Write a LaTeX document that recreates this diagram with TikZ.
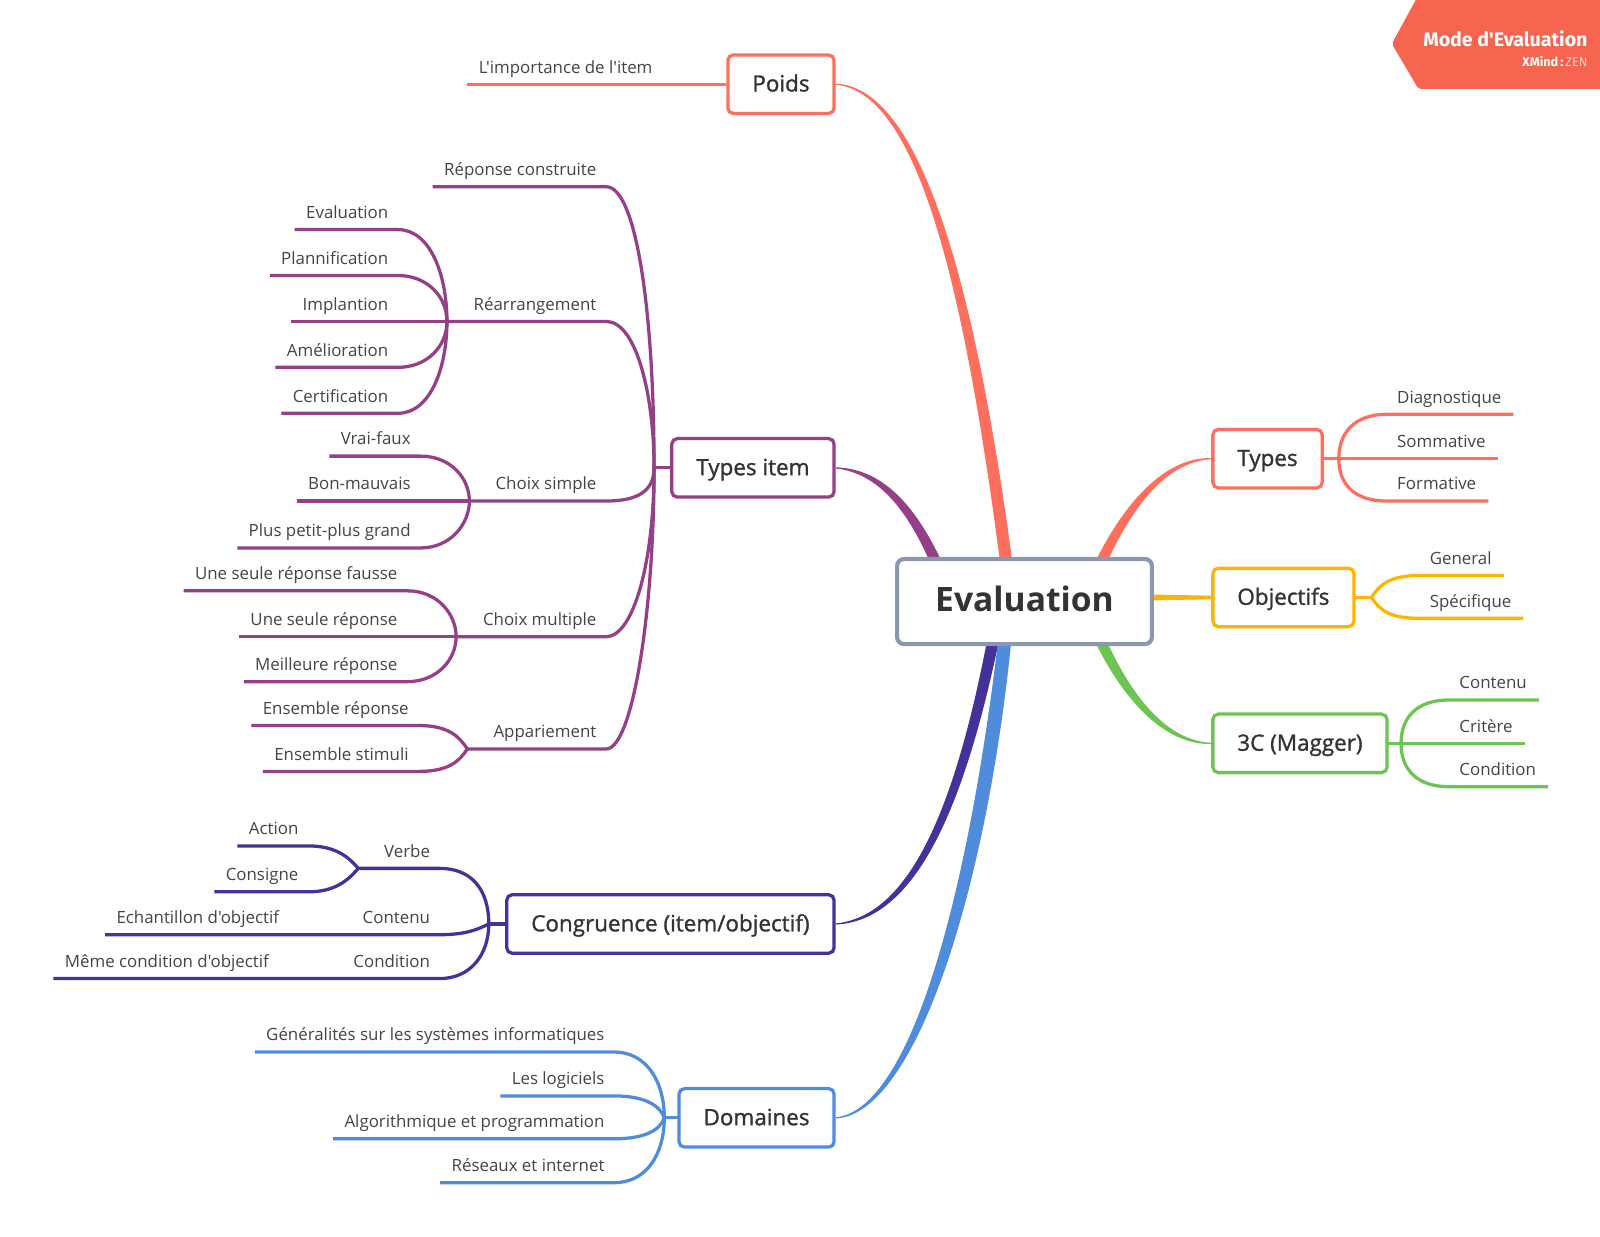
\documentclass[tikz,border=0pt]{standalone}
\usepackage{fontspec}
\usepackage{xcolor}
\setmainfont{Open Sans}
\newfontfamily\leaffont{Open Sans}
\newfontfamily\topicfont[FakeBold=1.2]{Open Sans}
\newfontfamily\flagfont{Fira Sans}
\usetikzlibrary{arrows.meta, positioning, calc, backgrounds}
\definecolor{maingrey}{RGB}{138, 151, 173}
\definecolor{textdark}{RGB}{51, 51, 51}
\definecolor{leaftext}{RGB}{68, 68, 68}
\definecolor{coral}{RGB}{255, 111, 94}
\definecolor{amber}{RGB}{255, 180, 0}
\definecolor{leafgreen}{RGB}{108, 197, 82}
\definecolor{plum}{RGB}{149, 63, 135}
\definecolor{indigo}{RGB}{68, 50, 152}
\definecolor{skyblue}{RGB}{80, 140, 220}
\definecolor{flagred}{RGB}{247, 101, 80}

\begin{document}
\begin{tikzpicture}[
  x=0.75pt, y=-0.75pt,
  central/.style={rectangle, rounded corners=5pt, draw=maingrey, fill=white,
                  line width=3pt, inner xsep=28pt, inner ysep=0pt, minimum height=62.5pt,
                  text height=20pt, text depth=5.1pt,
                  text=textdark, font=\fontsize{24.7}{30}\selectfont\bfseries},
  topic/.style={rectangle, rounded corners=4pt, draw=#1, fill=white,
                line width=2.4pt, inner xsep=18pt, inner ysep=0pt, minimum height=43pt,
                text height=13.6pt, text depth=2.8pt,
                text=textdark, font=\topicfont\fontsize{16.5}{20}\selectfont},
  leafleft/.style={anchor=south east, inner xsep=7pt, inner ysep=8pt,
                   text depth=0pt, text=leaftext,
                   font=\leaffont\fontsize{12.4}{15}\selectfont},
  leafright/.style={leafleft, anchor=south west, inner xsep=7.5pt},
  branch/.style={draw=#1, line width=2.4pt, shorten <=-1.2pt},
  taper/.style={fill=#1, draw=#1, line width=0.8pt}
]
  \useasboundingbox (0,0) rectangle (1568,1212);

  % -- Central topic and main topics -----------------------------------------
  \node[central] (main) at (1004,589.5) {Evaluation};

  \node[topic=coral,     anchor=east] (poids)  at (819,82.5)  {Poids};
  \node[topic=plum,      anchor=east] (item)   at (819,458.5) {Types item};
  \node[topic=indigo,    anchor=east] (congr)  at (819,905.5) {Congruence (item/objectif)};
  \node[topic=skyblue,   anchor=east] (domain) at (819,1095.5){Domaines};
  \node[topic=coral,     anchor=west] (types)  at (1187,449.5){Types};
  \node[topic=amber,     anchor=west] (goals)  at (1187,585.5){Objectifs};
  \node[topic=leafgreen, anchor=west] (magger) at (1187,728.5){3C (Magger)};

  % -- Tapered connectors, hidden behind the central topic --------------------
  \coordinate (poidsl) at (985.5,589); \coordinate (poidsr) at (996.5,589);
  \coordinate (iteml)  at (920,570);   \coordinate (itemr)  at (931,570);
  \coordinate (typesl) at (1065,570);  \coordinate (typesr) at (1076,570);
  \coordinate (goalsl) at (1120,583);  \coordinate (goalsr) at (1120,588);
  \coordinate (maggl)  at (1065,610);  \coordinate (maggr)  at (1076,610);
  \coordinate (congl)  at (973,600);   \coordinate (congr2) at (984,600);
  \coordinate (doml)   at (983,590);   \coordinate (domr)   at (994,590);
  \begin{scope}[on background layer]
    \fill[taper=coral] (poids.east) .. controls (904,90) and (949.5,300) .. (poidsl)
      -- (poidsr) .. controls (960.5,300) and (906,86) .. (poids.east);
    \fill[taper=plum] (item.east) .. controls (868,464) and (897,512) .. (iteml)
      -- (itemr) .. controls (905,508) and (872,460) .. (item.east);
    \fill[taper=coral] (types.west) .. controls (1140,448) and (1096,498) .. (typesl)
      -- (typesr) .. controls (1104,502) and (1140,452) .. (types.west);
    \fill[taper=amber] ($(goals.west)+(0,-1.2)$) -- (goalsl) -- (goalsr) -- ($(goals.west)+(0,1.2)$) -- cycle;
    \fill[taper=leafgreen] (magger.west) .. controls (1140,730) and (1096,682) .. (maggl)
      -- (maggr) .. controls (1104,678) and (1140,726) .. (magger.west);
    \fill[taper=indigo] (congr.east) .. controls (896,898) and (941,780) .. (congl)
      -- (congr2) .. controls (949,782) and (900,902) .. (congr.east);
    \fill[taper=skyblue] (domain.east) .. controls (896,1088) and (954,860) .. (doml)
      -- (domr) .. controls (972,860) and (898,1092) .. (domain.east);
  \end{scope}

  % -- Poids -------------------------------------------------------------------
  \node[leafleft] (weight) at (649,82.5) {L'importance de l'item};
  \draw[branch=coral] (weight.south west) -- (poids.west);

  % -- Types item ---------------------------------------------------------------
  \coordinate (itemj) at (641,458.5);
  \coordinate (rearj) at (438,315);
  \coordinate (simpj) at (460,491);
  \coordinate (multj) at (447,624);
  \coordinate (pairj) at (458,734);
  \draw[branch=plum] (item.west) -- (itemj);

  \node[leafleft] (built) at (594,183) {Réponse construite};
  \node[leafleft] (rear)  at (594,315) {Réarrangement};
  \node[leafleft] (simp)  at (594,491) {Choix simple};
  \node[leafleft] (mult)  at (594,624) {Choix multiple};
  \node[leafleft] (pair)  at (594,734) {Appariement};

  \draw[branch=plum] (built.south west) -- (built.south east)
    .. controls +(30,0) and +(0,-150) .. (itemj);
  \draw[branch=plum] (rearj) -- (rear.south east)
    .. controls +(30,0) and +(0,-70) .. (itemj);
  \draw[branch=plum] (simpj) -- (simp.south east)
    .. controls +(32,0) and +(0,22) .. (itemj);
  \draw[branch=plum] (multj) -- (mult.south east)
    .. controls +(26,0) and +(0,95) .. (itemj);
  \draw[branch=plum] (pairj) -- (pair.south east)
    .. controls +(26,0) and +(0,140) .. (itemj);

  \node[leafleft] (rear1) at (390,225) {Evaluation};
  \node[leafleft] (rear2) at (390,270) {Plannification};
  \node[leafleft] (rear3) at (390,315) {Implantion};
  \node[leafleft] (rear4) at (390,360) {Amélioration};
  \node[leafleft] (rear5) at (390,405) {Certification};
  \draw[branch=plum] (rear1.south west) -- (rear1.south east)
    .. controls +(32,0) and +(0,-45) .. (rearj);
  \draw[branch=plum] (rear2.south west) -- (rear2.south east)
    .. controls +(28,0) and +(0,-25) .. (rearj);
  \draw[branch=plum] (rear3.south west) -- (rear3.south east) -- (rearj);
  \draw[branch=plum] (rear4.south west) -- (rear4.south east)
    .. controls +(28,0) and +(0,25) .. (rearj);
  \draw[branch=plum] (rear5.south west) -- (rear5.south east)
    .. controls +(32,0) and +(0,45) .. (rearj);

  \node[leafleft] (simp1) at (412,447) {Vrai-faux};
  \node[leafleft] (simp2) at (412,491) {Bon-mauvais};
  \node[leafleft] (simp3) at (412,537) {Plus petit-plus grand};
  \draw[branch=plum] (simp1.south west) -- (simp1.south east)
    .. controls +(30,0) and +(0,-22) .. (simpj);
  \draw[branch=plum] (simp2.south west) -- (simp2.south east) -- (simpj);
  \draw[branch=plum] (simp3.south west) -- (simp3.south east)
    .. controls +(30,0) and +(0,22) .. (simpj);

  \node[leafleft] (mult1) at (399,579) {Une seule réponse fausse};
  \node[leafleft] (mult2) at (399,624) {Une seule réponse};
  \node[leafleft] (mult3) at (399,668) {Meilleure réponse};
  \draw[branch=plum] (mult1.south west) -- (mult1.south east)
    .. controls +(30,0) and +(0,-22) .. (multj);
  \draw[branch=plum] (mult2.south west) -- (mult2.south east) -- (multj);
  \draw[branch=plum] (mult3.south west) -- (mult3.south east)
    .. controls +(30,0) and +(0,22) .. (multj);

  \node[leafleft] (pair1) at (410,711) {Ensemble réponse};
  \node[leafleft] (pair2) at (410,756) {Ensemble stimuli};
  \draw[branch=plum] (pair1.south west) -- (pair1.south east)
    .. controls +(30,0) and +(-8,-12) .. (pairj);
  \draw[branch=plum] (pair2.south west) -- (pair2.south east)
    .. controls +(30,0) and +(-8,12) .. (pairj);

  % -- Congruence --------------------------------------------------------------
  \coordinate (congj) at (479,905.5);
  \coordinate (verbj) at (351,851);
  \draw[branch=indigo] (congr.west) -- (congj);

  \node[leafleft] (verb) at (431,851) {Verbe};
  \node[leafleft] (cont) at (431,916) {Contenu};
  \node[leafleft] (cond) at (431,959) {Condition};
  \node[leafleft] (echan) at (283,916) {Echantillon d'objectif};
  \node[leafleft] (same)  at (273,959) {Même condition d'objectif};
  \draw[branch=indigo] (verbj) -- (verb.south east)
    .. controls +(30,0) and +(0,-35) .. (congj);
  \draw[branch=indigo] (echan.south west) -- (cont.south east)
    .. controls +(24,0) and +(-12,6) .. (congj);
  \draw[branch=indigo] (same.south west) -- (cond.south east)
    .. controls +(30,0) and +(0,30) .. (congj);

  \node[leafleft] (verb1) at (302,829) {Action};
  \node[leafleft] (verb2) at (302,874) {Consigne};
  \draw[branch=indigo] (verb1.south west) -- (verb1.south east)
    .. controls +(26,0) and +(-10,-12) .. (verbj);
  \draw[branch=indigo] (verb2.south west) -- (verb2.south east)
    .. controls +(26,0) and +(-10,12) .. (verbj);

  % -- Domaines ----------------------------------------------------------------
  \coordinate (domj) at (651,1095.5);
  \draw[branch=skyblue] (domain.west) -- (domj);
  \node[leafleft] (dom1) at (602,1031) {Généralités sur les systèmes informatiques};
  \node[leafleft] (dom2) at (602,1074) {Les logiciels};
  \node[leafleft] (dom3) at (602,1116) {Algorithmique et programmation};
  \node[leafleft] (dom4) at (602,1159) {Réseaux et internet};
  \draw[branch=skyblue] (dom1.south west) -- (dom1.south east)
    .. controls +(32,0) and +(0,-35) .. (domj);
  \draw[branch=skyblue] (dom2.south west) -- (dom2.south east)
    .. controls +(30,0) and +(-4,-12) .. (domj);
  \draw[branch=skyblue] (dom3.south west) -- (dom3.south east)
    .. controls +(30,0) and +(-4,12) .. (domj);
  \draw[branch=skyblue] (dom4.south west) -- (dom4.south east)
    .. controls +(32,0) and +(0,35) .. (domj);

  % -- Types -------------------------------------------------------------------
  \coordinate (typesj) at (1312,449.5);
  \draw[branch=coral] (types.east) -- (typesj);
  \node[leafright] (types1) at (1359,406) {Diagnostique};
  \node[leafright] (types2) at (1359,449.5) {Sommative};
  \node[leafright] (types3) at (1359,491) {Formative};
  \draw[branch=coral] (types1.south east) -- (types1.south west)
    .. controls +(-32,0) and +(0,-25) .. (typesj);
  \draw[branch=coral] (types2.south east) -- (types2.south west) -- (typesj);
  \draw[branch=coral] (types3.south east) -- (types3.south west)
    .. controls +(-32,0) and +(0,25) .. (typesj);

  % -- Objectifs ---------------------------------------------------------------
  \coordinate (goalsj) at (1344,585.5);
  \draw[branch=amber] (goals.east) -- (goalsj);
  \node[leafright] (goals1) at (1391,564) {General};
  \node[leafright] (goals2) at (1391,606) {Spécifique};
  \draw[branch=amber] (goals1.south east) -- (goals1.south west)
    .. controls +(-30,0) and +(8,-12) .. (goalsj);
  \draw[branch=amber] (goals2.south east) -- (goals2.south west)
    .. controls +(-30,0) and +(8,12) .. (goalsj);

  % -- 3C ------------------------------------------------------------------------
  \coordinate (maggj) at (1373,728.5);
  \draw[branch=leafgreen] (magger.east) -- (maggj);
  \node[leafright] (magg1) at (1420,686) {Contenu};
  \node[leafright] (magg2) at (1420,728.5) {Critère};
  \node[leafright] (magg3) at (1420,771) {Condition};
  \draw[branch=leafgreen] (magg1.south east) -- (magg1.south west)
    .. controls +(-32,0) and +(0,-25) .. (maggj);
  \draw[branch=leafgreen] (magg2.south east) -- (magg2.south west) -- (maggj);
  \draw[branch=leafgreen] (magg3.south east) -- (magg3.south west)
    .. controls +(-32,0) and +(0,25) .. (maggj);

  % -- Flag ----------------------------------------------------------------------
  \fill[flagred, rounded corners=1.5pt] (1364,43) -- (1389,-3) -- (1571,-3)
    -- (1571,87) -- (1390,87) -- cycle;
  \node[anchor=east, inner sep=0pt, text=white, font=\flagfont\fontsize{14.4}{18}\selectfont\bfseries]
    (flagtitle) at (1556,38) {Mode d'Evaluation};
  \node[anchor=east, inner sep=0pt, text=white, font=\flagfont\fontsize{9.3}{11}\selectfont]
    (flagbrand) at (1556,60) {\textbf{XMind}\,\textbf{:}\,{\color{white!70!flagred}ZEN}};
\end{tikzpicture}
\end{document}
